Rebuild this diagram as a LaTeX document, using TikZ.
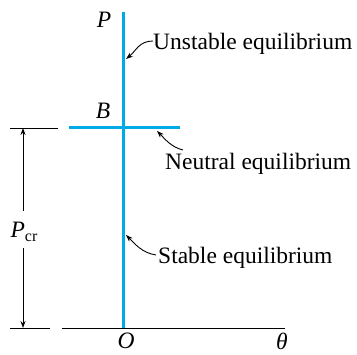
\documentclass[tikz,border=0pt]{standalone}
\usepackage{fontspec}
\setmainfont{Liberation Serif}
\usetikzlibrary{arrows.meta}
\definecolor{cyanline}{RGB}{0,170,230}
\begin{document}
\begin{tikzpicture}[x=1pt,y=-1pt,
  lbl/.style={inner sep=0pt,font=\fontsize{23.5}{26}\selectfont},
  blue/.style={draw=cyanline,line width=3pt},
  thin/.style={draw=black,line width=0.9pt},
  ptr/.style={draw=black,line width=0.9pt,-{Stealth[length=7pt,width=5pt]}}]
\useasboundingbox (0,0) rectangle (357,355);
% axes and blue lines
\coordinate (vtop) at (123,12);
\coordinate (vbot) at (123,328);
\coordinate (hl) at (69,128);
\coordinate (hr) at (180,128);
\coordinate (axl) at (62,328);
\coordinate (axr) at (285,328);
\draw[thin] (axl) -- (axr);
\draw[blue] (vtop) -- (vbot);
\draw[blue] (hl) -- (hr);
% dimension
\coordinate (t1l) at (10,128); \coordinate (t1r) at (58,128);
\coordinate (t2l) at (10,328); \coordinate (t2r) at (50,328);
\draw[thin] (t1l) -- (t1r);
\draw[thin] (t2l) -- (t2r);
\node[lbl] (pcr) at (24,232) {\textit{P}\raisebox{-0.35ex}{\fontsize{16}{18}\selectfont cr}};
\coordinate (d1) at (23,128); \coordinate (d2) at (23,328);
\coordinate (d1s) at (23,211); \coordinate (d2s) at (23,248);
\draw[ptr] (d1s) -- (d1);
\draw[ptr] (d2s) -- (d2);
% labels
\node[lbl] (P) at (104,20) {\textit{P}};
\node[lbl] (B) at (103,111) {\textit{B}};
\node[lbl] (O) at (126,341) {\textit{O}};
\node[lbl] (th) at (282,341) {\textit{θ}};
\node[lbl,anchor=west] (un) at (153,44) {Unstable equilibrium};
\node[lbl,anchor=west] (ne) at (165,164) {Neutral equilibrium};
\node[lbl,anchor=west] (st) at (158,258) {Stable equilibrium};
% pointers
\coordinate (ua) at (126,59);
\coordinate (na) at (157,131);
\coordinate (sa) at (126,235);
\draw[ptr] (un.west) ++(0,-3) .. controls +(-14,0) and +(10,-8) .. (ua);
\draw[ptr] (183,150) .. controls +(-12,-3) and +(8,8) .. (na);
\draw[ptr] (st.west) ++(-2,-3) .. controls +(-14,-2) and +(8,8) .. (sa);
\end{tikzpicture}
\end{document}
